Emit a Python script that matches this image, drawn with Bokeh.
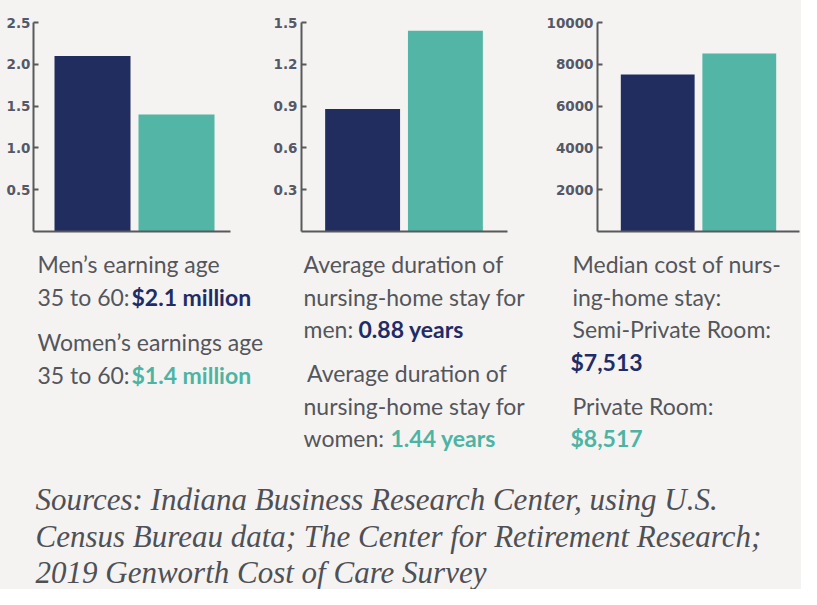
from bokeh.plotting import figure
from bokeh.models import Range1d, FixedTicker, PrintfTickFormatter
from bokeh.layouts import column, row
from bokeh.embed import file_html
from bokeh.resources import INLINE
from bokeh.core.properties import value

# ---- data ----
earnings = [2.1, 1.4]          # $ million, men / women, age 35-60
stay_years = [0.88, 1.44]      # years, men / women
room_cost = [7513, 8517]       # $ per month, semi-private / private
earn_ticks = [0.5, 1.0, 1.5, 2.0, 2.5]
stay_ticks = [0.3, 0.6, 0.9, 1.2, 1.5]
cost_ticks = [2000, 4000, 6000, 8000, 10000]

BG = "#f4f3f1"
NAVY = "#222d5f"
TEAL = "#52b5a5"
NAVY_TXT = "#1f2c66"
TEAL_TXT = "#4db4a3"
GREY_TXT = "#54565b"
AXIS = "#58595b"
TICK_TXT = "#555866"

TOP_H = 240


def bar_panel(vals, ticks, fmt, width, mb_left, mb_right, frame_w, off1, standoff):
    sp = 84.0
    p = figure(width=width, height=TOP_H,
               x_range=Range1d(1 - off1 / sp, 1 + (frame_w - off1) / sp),
               y_range=Range1d(0, ticks[-1]),
               output_backend="svg", toolbar_location=None,
               min_border_left=mb_left, min_border_right=mb_right,
               min_border_top=22, min_border_bottom=TOP_H - 231,
               background_fill_color=BG, border_fill_color=BG,
               outline_line_color=None)
    p.vbar(x=[1, 2], top=vals, width=76 / sp, color=[NAVY, TEAL], line_color=None)
    p.grid.visible = False
    ya = p.yaxis[0]
    ya.ticker = FixedTicker(ticks=ticks)
    ya.formatter = PrintfTickFormatter(format=fmt)
    ya.axis_line_color = AXIS
    ya.axis_line_width = 2
    ya.major_tick_line_color = AXIS
    ya.major_tick_line_width = 2
    ya.major_tick_in = 5
    ya.major_tick_out = 0
    ya.minor_tick_line_color = None
    ya.major_label_standoff = standoff
    ya.major_label_text_font = "DejaVu Sans"
    ya.major_label_text_font_style = "bold"
    ya.major_label_text_font_size = "13.5px"
    ya.major_label_text_color = TICK_TXT
    xa = p.xaxis[0]
    xa.ticker = FixedTicker(ticks=[])
    xa.axis_line_color = AXIS
    xa.axis_line_width = 2
    xa.major_tick_line_color = None
    xa.minor_tick_line_color = None
    xa.major_label_text_font_size = "0px"
    xa.major_label_standoff = 0
    return p


p1 = bar_panel(earnings, earn_ticks, "%.1f", 270, 33, 40, 197, 59, 3)
p2 = bar_panel(stay_years, stay_ticks, "%.1f", 273, 28, 36, 209, 62, 4)
p3 = bar_panel(room_cost, cost_ticks, "%d", 258, 48, 2, 208, 62, 4)

# ---- text area ----
W, H = 801, 589
t = figure(width=W, height=H - TOP_H, x_range=Range1d(0, W), y_range=Range1d(H, TOP_H),
           output_backend="svg", toolbar_location=None,
           x_axis_type=None, y_axis_type=None,
           min_border_left=0, min_border_right=0, min_border_top=0, min_border_bottom=0,
           background_fill_color=BG, border_fill_color=BG, outline_line_color=None)
t.grid.visible = False

DY = -8  # compensation for the rendered baseline offset


def txt(x, y, s, color=GREY_TXT, bold=False, font="Lato", size="23px", style=None):
    fs = "bold" if bold else "normal"
    if style:
        fs = style
    t.text(x=[x], y=[y + DY], text=[s], text_font=value(font), text_font_size=size,
           text_font_style=fs, text_color=color, text_baseline="alphabetic",
           text_align="left")


# panel 1
txt(37, 271.5, "Men’s earning age")
txt(37, 304, "35 to 60:")
txt(131, 304, f"${earnings[0]} million", NAVY_TXT, True)
txt(37, 349, "Women’s earnings age")
txt(37, 382, "35 to 60:")
txt(131, 382, f"${earnings[1]} million", TEAL_TXT, True)

# panel 2
txt(303, 271.5, "Average duration of")
txt(303, 304, "nursing-home stay for")
txt(303, 336.5, "men:")
txt(358, 336.5, f"{stay_years[0]} years", NAVY_TXT, True)
txt(306.5, 380.5, "Average duration of")
txt(303, 413, "nursing-home stay for")
txt(303, 445.5, "women:")
txt(390, 445.5, f"{stay_years[1]} years", TEAL_TXT, True)

# panel 3
txt(572, 271.5, "Median cost of nurs-")
txt(572, 304, "ing-home stay:")
txt(572, 336.5, "Semi-Private Room:")
txt(570, 369, f"${room_cost[0]:,}", NAVY_TXT, True)
txt(572, 413, "Private Room:")
txt(570, 445.5, f"${room_cost[1]:,}", TEAL_TXT, True)

# sources
src_lines = ["Sources: Indiana Business Research Center, using U.S.",
             "Census Bureau data; The Center for Retirement Research;",
             "2019 Genworth Cost of Care Survey"]
for yb, s in zip([507, 543.5, 580], src_lines):
    txt(35, yb, s, "#4f5055", False, "Liberation Serif", "31px", "italic")

layout = column(row(p1, p2, p3, styles={"background-color": BG}), t,
                styles={"background-color": BG})
open("out.html", "w").write(file_html(layout, INLINE))
